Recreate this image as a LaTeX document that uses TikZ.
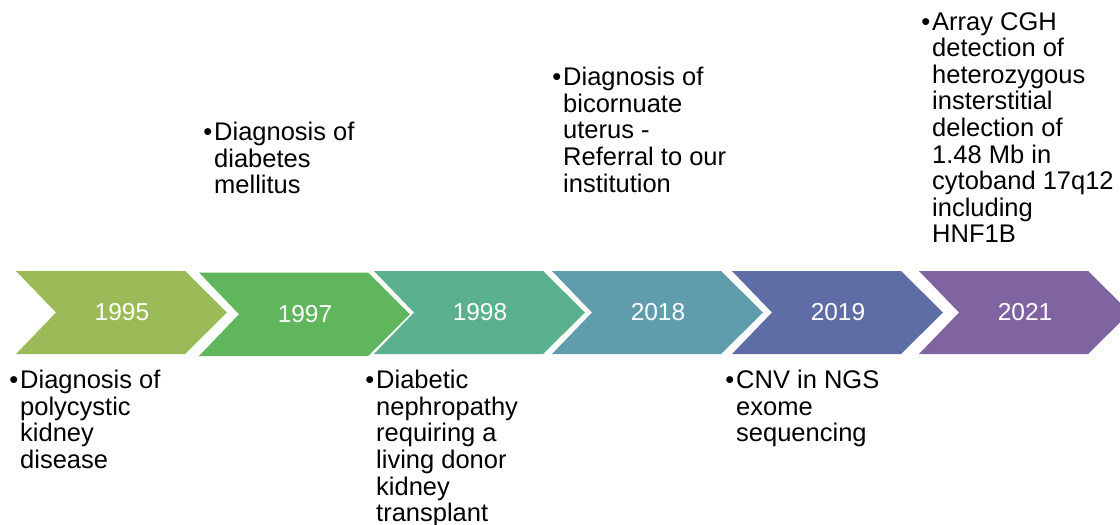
\documentclass[tikz,border=0pt]{standalone}
\usepackage{fontspec}
\setmainfont{Liberation Sans}
\definecolor{cA}{HTML}{9BBB59}
\definecolor{cB}{HTML}{60B65C}
\definecolor{cC}{HTML}{5BB08E}
\definecolor{cD}{HTML}{5F9DAD}
\definecolor{cE}{HTML}{5F6DA7}
\definecolor{cF}{HTML}{8064A2}
\newcommand\bul{\llap{•\hspace{2pt}}}
% chevron: left edge, top, bottom, colour, year
\newcommand\chevronstep[5]{%
  \fill[#4] (#1,#2) -- ({#1+169},#2) -- ({#1+211},{(#2+#3)/2}) -- ({#1+169},#3)
    -- (#1,#3) -- ({#1+40},{(#2+#3)/2}) -- cycle;
  \node[year] (y#5) at ({#1+106},{(#2+#3)/2}) {#5};
}
\begin{document}
\begin{tikzpicture}[x=1pt,y=-1pt,
  year/.style={text=white, font=\fontsize{24.5}{28}\selectfont, inner sep=0},
  event/.style={anchor=north west, inner sep=0, align=left,
    font=\fontsize{25.5}{26.6}\selectfont},
]
\useasboundingbox (0,0) rectangle (1120,525);
\clip (0,0) rectangle (1120,525);

\chevronstep{16}{271}{354}{cA}{1995}
\chevronstep{199}{272.5}{356}{cB}{1997}
\chevronstep{374}{271}{354}{cC}{1998}
\chevronstep{552}{271}{354}{cD}{2018}
\chevronstep{732}{271}{354}{cE}{2019}
\chevronstep{919}{271}{354}{cF}{2021}

\node[event] (e1) at (20,370) {\bul Diagnosis of\\polycystic\\kidney\\disease};
\node[event] (e2) at (214,122) {\bul Diagnosis of\\diabetes\\mellitus};
\node[event] (e3) at (376,370) {\bul Diabetic\\nephropathy\\requiring a\\living donor\\kidney\\transplant};
\node[event] (e4) at (563,67) {\bul Diagnosis of\\bicornuate\\uterus -\\Referral to our\\institution};
\node[event] (e5) at (736,370) {\bul CNV in NGS\\exome\\sequencing};
\node[event] (e6) at (932,12) {\bul Array CGH\\detection of\\heterozygous\\insterstitial\\delection of\\1.48 Mb in\\cytoband 17q12\\including\\HNF1B};
\end{tikzpicture}
\end{document}
